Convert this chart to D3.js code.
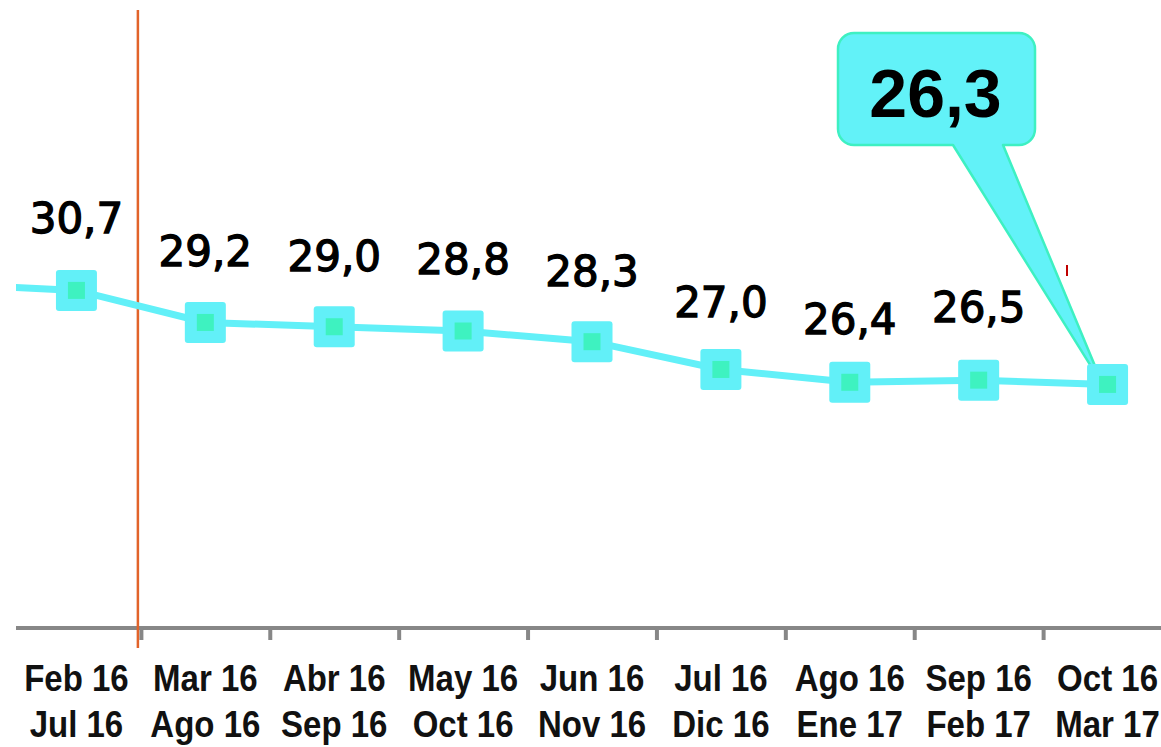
<!DOCTYPE html>
<html>
<head>
<meta charset="utf-8">
<script src="https://cdn.jsdelivr.net/npm/d3@7"></script>
<style>
  html, body { margin: 0; padding: 0; background: #fff; }
  svg { display: block; }
</style>
</head>
<body>
<svg id="chart" width="1161" height="747"></svg>
<script>
// ---- data ----
const catLine1 = ["Feb 16", "Mar 16", "Abr 16", "May 16", "Jun 16", "Jul 16", "Ago 16", "Sep 16", "Oct 16"];
const catLine2 = ["Jul 16", "Ago 16", "Sep 16", "Oct 16", "Nov 16", "Dic 16", "Ene 17", "Feb 17", "Mar 17"];
const values = [30.7, 29.2, 29.0, 28.8, 28.3, 27.0, 26.4, 26.5, 26.3];
const valueLabels = ["30,7", "29,2", "29,0", "28,8", "28,3", "27,0", "26,4", "26,5", "26,3"];
const prevValue = 31.0;            // the period before (cut off at the left edge)
const calloutLabel = "26,3";

// ---- layout (not data) ----
const labelNudge = [0, 1, 1, 0, 1, 5, 9, -1, 0];

const W = 1161, H = 747;
const svg = d3.select("#chart");

const cats = catLine1.map((d, i) => d + "|" + catLine2[i]);
const x = d3.scaleBand().domain(cats).range([12, 1172]).paddingInner(0).paddingOuter(0);
const y = d3.scaleLinear().domain([14.9, 44.9]).range([628, -13]);
const cx = i => x(cats[i]) + x.bandwidth() / 2;
const bw = x.bandwidth();

// clip for the line (left edge of plot)
svg.append("defs").append("clipPath").attr("id", "plotclip")
  .append("rect").attr("x", 16).attr("y", 0).attr("width", W - 16).attr("height", H);

// axis line + ticks
const axisY = y(14.9);
svg.append("line").attr("x1", 16).attr("x2", W).attr("y1", axisY).attr("y2", axisY)
  .attr("stroke", "#878787").attr("stroke-width", 4);
svg.selectAll("line.tick").data(cats.slice(1)).enter().append("line")
  .attr("class", "tick")
  .attr("x1", d => x(d) + 0.5).attr("x2", d => x(d) + 0.5)
  .attr("y1", axisY).attr("y2", axisY + 12)
  .attr("stroke", "#878787").attr("stroke-width", 4);

// orange vertical reference line between first and second category
const refX = x(cats[1]) - 3;
svg.append("line").attr("x1", refX).attr("x2", refX).attr("y1", 10).attr("y2", axisY + 20)
  .attr("stroke", "#E2632A").attr("stroke-width", 2.5);

// tick labels
const tl = svg.append("g").attr("font-family", "'Liberation Sans', Arial, sans-serif")
  .attr("font-weight", "bold").attr("font-size", 33).attr("fill", "#111")
  .attr("text-anchor", "middle");
catLine1.forEach((t, i) => {
  tl.append("text").attr("transform", `translate(${cx(i)},691) scale(1,1.14)`).text(t);
  tl.append("text").attr("transform", `translate(${cx(i)},737) scale(1,1.14)`).text(catLine2[i]);
});

// line
const linePts = [[x(cats[0]) - bw / 2, y(prevValue)]].concat(values.map((v, i) => [cx(i), y(v)]));
svg.append("path").attr("d", d3.line()(linePts)).attr("fill", "none")
  .attr("stroke", "#62F0F8").attr("stroke-width", 7).attr("clip-path", "url(#plotclip)");

// callout (behind last marker)
const lastI = values.length - 1;
const tip = [cx(lastI) - 4, y(values[lastI]) + 2];
const box = { x0: 838, y0: 33, x1: 1035, y1: 145, r: 16 };
const cp = d3.path();
cp.moveTo(box.x0 + box.r, box.y0);
cp.lineTo(box.x1 - box.r, box.y0);
cp.arcTo(box.x1, box.y0, box.x1, box.y0 + box.r, box.r);
cp.lineTo(box.x1, box.y1 - box.r);
cp.arcTo(box.x1, box.y1, box.x1 - box.r, box.y1, box.r);
cp.lineTo(1003, box.y1);
cp.lineTo(tip[0], tip[1]);
cp.lineTo(953, box.y1);
cp.lineTo(box.x0 + box.r, box.y1);
cp.arcTo(box.x0, box.y1, box.x0, box.y1 - box.r, box.r);
cp.lineTo(box.x0, box.y0 + box.r);
cp.arcTo(box.x0, box.y0, box.x0 + box.r, box.y0, box.r);
cp.closePath();
svg.append("path").attr("d", cp.toString()).attr("fill", "#62F2F8")
  .attr("stroke", "#3EF0C2").attr("stroke-width", 2.5).attr("stroke-linejoin", "round");
svg.append("text").attr("x", (box.x0 + box.x1) / 2 - 1).attr("y", 117)
  .attr("text-anchor", "middle").attr("font-family", "'Liberation Sans', Arial, sans-serif")
  .attr("font-weight", "bold").attr("font-size", 68).attr("fill", "#000").text(calloutLabel);

// small dark-red mark remnant
svg.append("line").attr("x1", 1067).attr("x2", 1067).attr("y1", 265).attr("y2", 276)
  .attr("stroke", "#C00000").attr("stroke-width", 2);

// markers
const mk = svg.append("g");
values.forEach((v, i) => {
  mk.append("rect").attr("x", cx(i) - 20.5).attr("y", y(v) - 20.5).attr("width", 41).attr("height", 41)
    .attr("rx", 3).attr("fill", "#62F0F8");
  mk.append("rect").attr("x", cx(i) - 8.5).attr("y", y(v) - 8.5).attr("width", 17).attr("height", 17)
    .attr("fill", "#3EF2C0");
});

// value labels (all but the last, which is in the callout)
const vl = svg.append("g").attr("font-family", "'DejaVu Sans', Verdana, sans-serif")
  .attr("font-size", 42).attr("fill", "#000").attr("stroke", "#000").attr("stroke-width", 1.3)
  .attr("text-anchor", "middle");
values.slice(0, lastI).forEach((v, i) => {
  vl.append("text").attr("x", cx(i)).attr("y", y(v) - 57 + labelNudge[i]).text(valueLabels[i]);
});
</script>
</body>
</html>
